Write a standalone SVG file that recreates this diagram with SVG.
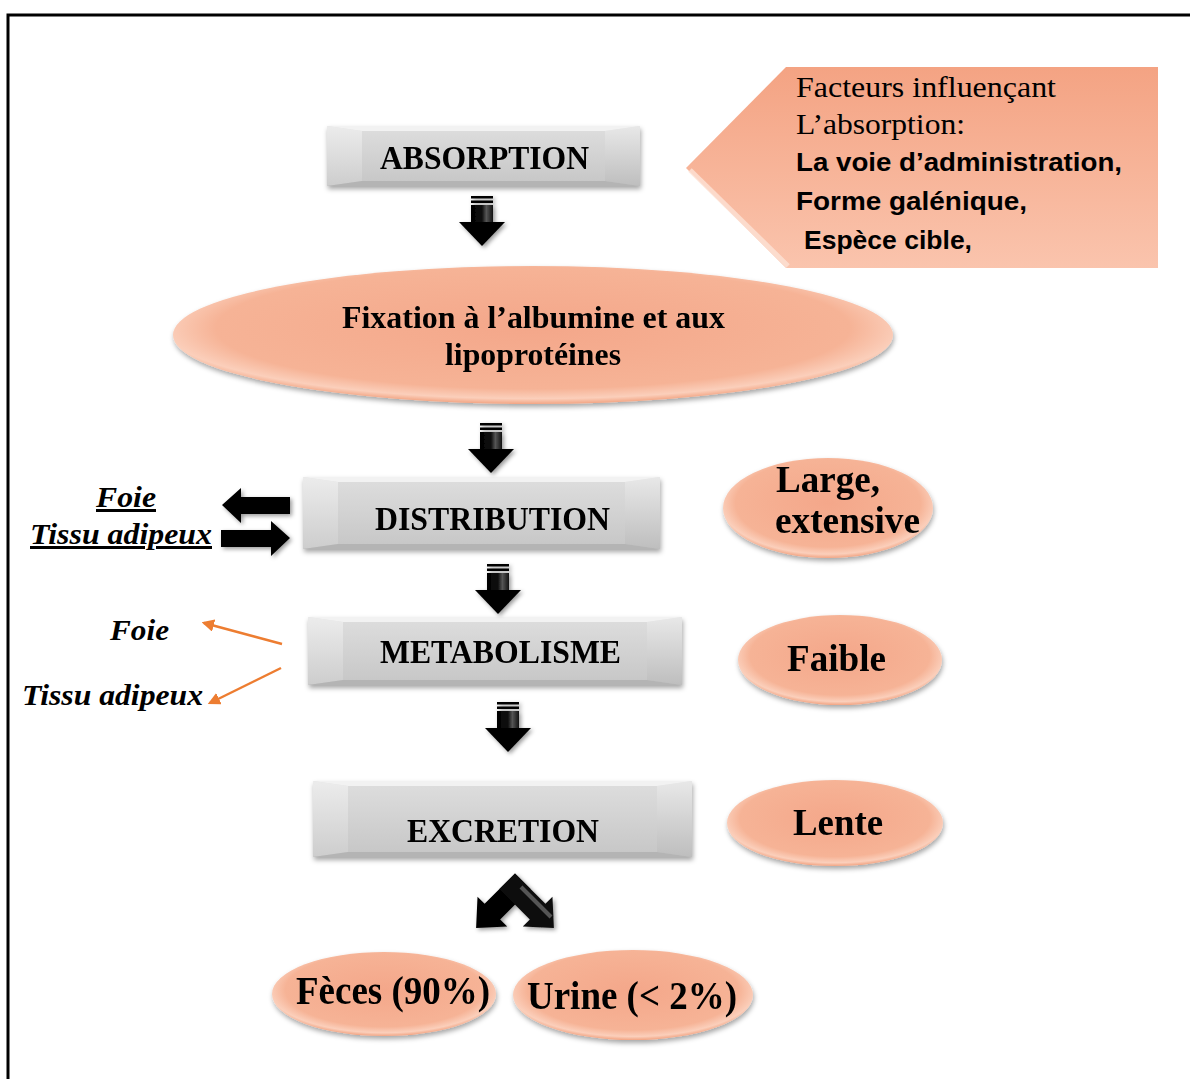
<svg xmlns="http://www.w3.org/2000/svg" width="1190" height="1079" viewBox="0 0 1190 1079">
<defs>
<linearGradient id="gface" x1="0" y1="0" x2="0" y2="1">
<stop offset="0" stop-color="#dedede"/><stop offset="1" stop-color="#c6c6c6"/>
</linearGradient>
<linearGradient id="gleft" x1="0" y1="0" x2="0" y2="1">
<stop offset="0" stop-color="#ececec"/><stop offset="1" stop-color="#cdcdcd"/>
</linearGradient>
<linearGradient id="gright" x1="0" y1="0" x2="0" y2="1">
<stop offset="0" stop-color="#e8e8e8"/><stop offset="1" stop-color="#bebebe"/>
</linearGradient>
<radialGradient id="gsal" cx="0.5" cy="0.45" r="0.55">
<stop offset="0" stop-color="#f4a78a"/><stop offset="0.8" stop-color="#f6b396"/><stop offset="0.93" stop-color="#fbcfbb"/><stop offset="1" stop-color="#f2a584"/>
</radialGradient>
<linearGradient id="gpent" x1="0" y1="0" x2="0" y2="1">
<stop offset="0" stop-color="#f4a383"/><stop offset="1" stop-color="#fac4ad"/>
</linearGradient>
<linearGradient id="gshaft" x1="0" y1="0" x2="1" y2="0">
<stop offset="0" stop-color="#000"/><stop offset="0.5" stop-color="#111"/><stop offset="0.7" stop-color="#555"/><stop offset="1" stop-color="#111"/>
</linearGradient>
<filter id="sh" x="-20%" y="-20%" width="140%" height="150%">
<feDropShadow dx="1" dy="3" stdDeviation="2.5" flood-color="#000" flood-opacity="0.35"/>
</filter>
<filter id="sh2" x="-30%" y="-30%" width="160%" height="160%">
<feDropShadow dx="2" dy="2" stdDeviation="2" flood-color="#000" flood-opacity="0.4"/>
</filter>
<marker id="mo" viewBox="0 0 10 10" refX="8" refY="5" markerWidth="5" markerHeight="5" orient="auto">
<path d="M0,0 L10,5 L0,10 Z" fill="#ed7d31"/>
</marker>
<g id="darrow">
<rect x="-11" y="0" width="22" height="2.5" fill="#000"/>
<rect x="-11" y="4.5" width="22" height="2.5" fill="#000"/>
<rect x="-11" y="9" width="22" height="19" fill="url(#gshaft)"/>
<path d="M-23,26 L23,26 L0,50 Z" fill="#000"/>
</g>
</defs>
<style>
.bt{font-family:"Liberation Serif","Times New Roman",serif;font-weight:bold;fill:#000}
.reg{font-family:"Liberation Serif","Times New Roman",serif;fill:#000}
.sans{font-family:"Liberation Sans",Arial,sans-serif;font-weight:bold;fill:#000}
.bi{font-family:"Liberation Serif","Times New Roman",serif;font-weight:bold;font-style:italic;fill:#000}
.ell{fill:url(#gsal)}
.orange{stroke:#ed7d31;stroke-width:2.5;fill:none}
</style>
<rect width="1190" height="1079" fill="#fff"/>
<path d="M8,1079 L8,15 L1190,15" fill="none" stroke="#000" stroke-width="3"/>

<g id="absorption" filter="url(#sh)">
<rect x="327" y="126" width="313" height="60" fill="url(#gface)"/>
<polygon points="327,126 362,131 362,181 327,186" fill="url(#gleft)"/>
<polygon points="640,126 605,131 605,181 640,186" fill="url(#gright)"/>
<polygon points="327,126 640,126 605,131 362,131" fill="#f2f2f2"/>
<polygon points="327,186 640,186 605,181 362,181" fill="#b4b4b4"/>
<text class="bt" x="380" y="169" font-size="34" textLength="209" lengthAdjust="spacingAndGlyphs">ABSORPTION</text>
</g>

<g id="facteurs">
<polygon points="686,168 786,67 1158,67 1158,268 786,268" fill="url(#gpent)"/>
<polyline points="690,170 788,266" stroke="#fde2d6" stroke-width="5" fill="none" opacity="0.8"/>
<text class="reg" x="796" y="97" font-size="29" textLength="260" lengthAdjust="spacingAndGlyphs">Facteurs influençant</text>
<text class="reg" x="796" y="134" font-size="29" textLength="169" lengthAdjust="spacingAndGlyphs">L’absorption:</text>
<text class="sans" x="796" y="171" font-size="25" textLength="326" lengthAdjust="spacingAndGlyphs">La voie d’administration,</text>
<text class="sans" x="796" y="210" font-size="25" textLength="231" lengthAdjust="spacingAndGlyphs">Forme galénique,</text>
<text class="sans" x="804" y="249" font-size="25" textLength="168" lengthAdjust="spacingAndGlyphs">Espèce cible,</text>
</g>

<g id="fixation" filter="url(#sh)">
<ellipse class="ell" cx="533" cy="335" rx="360" ry="69"/>
<text class="bt" x="342" y="328" font-size="32" textLength="383" lengthAdjust="spacingAndGlyphs">Fixation à l’albumine et aux</text>
<text class="bt" x="445" y="365" font-size="32" textLength="176" lengthAdjust="spacingAndGlyphs">lipoprotéines</text>
</g>

<g id="distribution" filter="url(#sh)">
<rect x="303" y="477" width="357" height="72" fill="url(#gface)"/>
<polygon points="303,477 338,482 338,544 303,549" fill="url(#gleft)"/>
<polygon points="660,477 625,482 625,544 660,549" fill="url(#gright)"/>
<polygon points="303,477 660,477 625,482 338,482" fill="#f2f2f2"/>
<polygon points="303,549 660,549 625,544 338,544" fill="#b4b4b4"/>
<text class="bt" x="375" y="530" font-size="34" textLength="235" lengthAdjust="spacingAndGlyphs">DISTRIBUTION</text>
</g>

<g id="metabolisme" filter="url(#sh)">
<rect x="308" y="617" width="374" height="68" fill="url(#gface)"/>
<polygon points="308,617 343,622 343,680 308,685" fill="url(#gleft)"/>
<polygon points="682,617 647,622 647,680 682,685" fill="url(#gright)"/>
<polygon points="308,617 682,617 647,622 343,622" fill="#f2f2f2"/>
<polygon points="308,685 682,685 647,680 343,680" fill="#b4b4b4"/>
<text class="bt" x="380" y="663" font-size="34" textLength="241" lengthAdjust="spacingAndGlyphs">METABOLISME</text>
</g>

<g id="excretion" filter="url(#sh)">
<rect x="313" y="781" width="379" height="76" fill="url(#gface)"/>
<polygon points="313,781 348,786 348,852 313,857" fill="url(#gleft)"/>
<polygon points="692,781 657,786 657,852 692,857" fill="url(#gright)"/>
<polygon points="313,781 692,781 657,786 348,786" fill="#f2f2f2"/>
<polygon points="313,857 692,857 657,852 348,852" fill="#b4b4b4"/>
<text class="bt" x="407" y="842" font-size="34" textLength="192" lengthAdjust="spacingAndGlyphs">EXCRETION</text>
</g>

<g id="large" filter="url(#sh)">
<ellipse class="ell" cx="828" cy="508" rx="105" ry="50"/>
<text class="bt" x="776" y="492" font-size="38" textLength="104" lengthAdjust="spacingAndGlyphs">Large,</text>
<text class="bt" x="775" y="533" font-size="38" textLength="145" lengthAdjust="spacingAndGlyphs">extensive</text>
</g>

<g id="faible" filter="url(#sh)">
<ellipse class="ell" cx="840" cy="660" rx="102" ry="45"/>
<text class="bt" x="787" y="671" font-size="38" textLength="99" lengthAdjust="spacingAndGlyphs">Faible</text>
</g>

<g id="lente" filter="url(#sh)">
<ellipse class="ell" cx="835" cy="823" rx="108" ry="43"/>
<text class="bt" x="793" y="835" font-size="38" textLength="90" lengthAdjust="spacingAndGlyphs">Lente</text>
</g>

<g id="feces" filter="url(#sh)">
<ellipse class="ell" cx="384" cy="994" rx="112" ry="42"/>
<text class="bt" x="296" y="1004" font-size="39" textLength="194" lengthAdjust="spacingAndGlyphs">Fèces (90%)</text>
</g>

<g id="urine" filter="url(#sh)">
<ellipse class="ell" cx="633" cy="995" rx="120" ry="45"/>
<text class="bt" x="527" y="1009" font-size="39" textLength="210" lengthAdjust="spacingAndGlyphs">Urine (&lt; 2%)</text>
</g>

<g id="foie1">
<text class="bi" x="96" y="507" font-size="30" textLength="60" lengthAdjust="spacingAndGlyphs" text-decoration="underline">Foie</text>
</g>
<g id="tissu1">
<text class="bi" x="30" y="544" font-size="30" textLength="182" lengthAdjust="spacingAndGlyphs" text-decoration="underline">Tissu adipeux</text>
</g>
<g id="foie2">
<text class="bi" x="110" y="640" font-size="30" textLength="59" lengthAdjust="spacingAndGlyphs">Foie</text>
</g>
<g id="tissu2">
<text class="bi" x="22" y="705" font-size="30" textLength="181" lengthAdjust="spacingAndGlyphs">Tissu adipeux</text>
</g>

<g id="connectors">
<g filter="url(#sh2)">
<use href="#darrow" transform="translate(482,196)"/>
<use href="#darrow" transform="translate(491,423)"/>
<use href="#darrow" transform="translate(498,564)"/>
<use href="#darrow" transform="translate(508,702)"/>
<path d="M222,505 L241,488 L241,497 L290,497 L290,514 L241,514 L241,523 Z" fill="#000"/>
<path d="M290,538 L271,521 L271,530 L221,530 L221,547 L271,547 L271,556 Z" fill="#000"/>
<g transform="translate(515,889)">
<path d="M-11,-11 L32,-11 L32,-21 L55,0 L32,21 L32,11 L-11,11 Z" fill="#000" transform="rotate(135)"/>
<path d="M-11,-11 L32,-11 L32,-21 L55,0 L32,21 L32,11 L-11,11 Z" fill="#111" transform="rotate(45)"/>
<path d="M4,4 L34,34" stroke="#555" stroke-width="4" transform="translate(2,-6)"/>
</g>
</g>
<line class="orange" x1="282" y1="644" x2="204" y2="623" marker-end="url(#mo)"/>
<line class="orange" x1="281" y1="668" x2="210" y2="703" marker-end="url(#mo)"/>
</g>
</svg>
